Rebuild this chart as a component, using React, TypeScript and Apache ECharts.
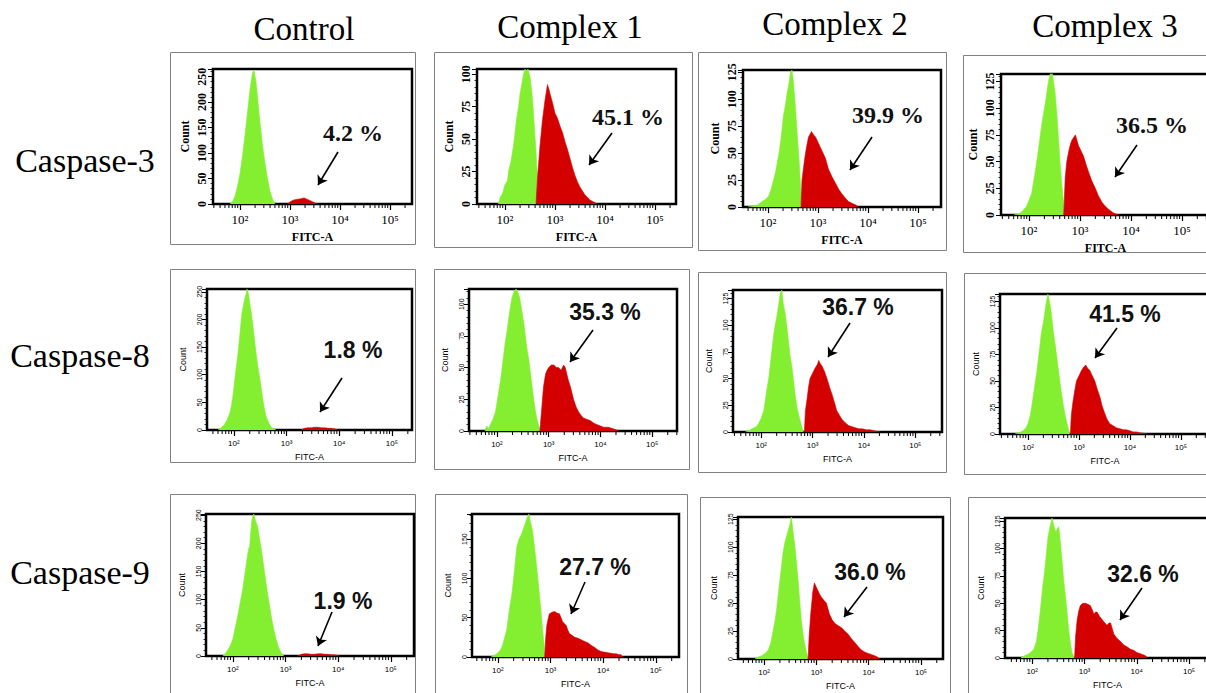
import React, { useEffect, useRef } from 'react';
import * as echarts from 'echarts';

// ---------- labels ----------
const columns = ['Control', 'Complex 1', 'Complex 2', 'Complex 3'];
const rows = ['Caspase-3', 'Caspase-8', 'Caspase-9'];
const percents = [
  ['4.2 %', '45.1 %', '39.9 %', '36.5 %'],
  ['1.8 %', '35.3 %', '36.7 %', '41.5 %'],
  ['1.9 %', '27.7 %', '36.0 %', '32.6 %'],
];
const xTickValues = [2, 3, 4, 5];
const xTickLabels = ['10²', '10³', '10⁴', '10⁵'];
const yMax = [
  [265, 104, 127, 132],
  [255, 112, 133, 132],
  [252, 182, 127, 128],
];
const yStep = [
  [50, 25, 25, 25],
  [50, 25, 25, 25],
  [50, 50, 25, 25],
];

// ---------- histogram data: [log10(FITC-A), count] ----------
// Caspase-3
const c3CtrlGreen = [[1.80,0],[1.85,5],[1.90,15],[1.95,35],[2.0,60],[2.05,95],[2.10,135],[2.15,180],[2.20,225],[2.25,258],[2.28,262],[2.32,240],[2.36,200],[2.40,160],[2.45,115],[2.50,80],[2.55,50],[2.60,25],[2.65,10],[2.70,0]];
const c3CtrlRed = [[2.95,0],[3.0,4],[3.05,7],[3.12,9],[3.2,10],[3.28,12],[3.35,9],[3.42,6],[3.5,2],[3.55,0]];
const c3C1Green = [[1.87,0],[1.9,5],[1.95,8],[2.0,15],[2.05,18],[2.07,25],[2.12,33],[2.17,45],[2.2,55],[2.23,65],[2.27,75],[2.3,85],[2.34,93],[2.37,100],[2.4,104],[2.43,102],[2.46,104],[2.5,98],[2.54,85],[2.57,70],[2.6,52],[2.62,40],[2.65,20],[2.67,0]];
const c3C1Red = [[2.62,0],[2.65,20],[2.70,45],[2.75,65],[2.80,80],[2.85,92],[2.88,88],[2.90,85],[2.95,78],[3.0,70],[3.05,66],[3.1,60],[3.15,55],[3.2,48],[3.25,42],[3.3,35],[3.35,28],[3.4,22],[3.45,17],[3.5,13],[3.6,7],[3.7,3],[3.8,1],[3.85,0]];
const c3C2Green = [[1.6,0],[1.7,1],[1.8,2],[1.88,5],[1.95,7],[2.01,10],[2.06,16],[2.11,25],[2.15,32],[2.18,40],[2.22,50],[2.25,60],[2.28,72],[2.31,85],[2.35,95],[2.38,105],[2.42,115],[2.45,125],[2.48,127],[2.51,115],[2.55,92],[2.58,70],[2.62,45],[2.65,20],[2.68,0]];
const c3C2Red = [[2.66,0],[2.68,25],[2.72,40],[2.75,50],[2.78,58],[2.81,65],[2.87,70],[2.91,67],[2.95,65],[3.0,60],[3.05,55],[3.1,50],[3.15,45],[3.21,35],[3.28,28],[3.35,22],[3.42,16],[3.48,12],[3.55,8],[3.61,5],[3.7,3],[3.75,2],[3.81,0]];
const c3C3Green = [[1.7,0],[1.8,1],[1.86,3],[1.95,8],[2.05,20],[2.12,40],[2.18,60],[2.25,85],[2.32,105],[2.38,125],[2.42,133],[2.45,135],[2.48,125],[2.51,115],[2.55,92],[2.58,70],[2.61,48],[2.64,30],[2.7,0]];
const c3C3Red = [[2.68,0],[2.71,35],[2.74,50],[2.78,60],[2.81,66],[2.84,70],[2.88,73],[2.91,75],[2.94,70],[2.97,65],[3.02,60],[3.07,55],[3.12,47],[3.17,40],[3.23,32],[3.3,25],[3.36,18],[3.43,12],[3.5,8],[3.57,5],[3.65,2],[3.7,1],[3.76,0]];
// Caspase-8
const c8CtrlGreen = [[1.7,0],[1.76,4],[1.82,10],[1.87,18],[1.92,30],[1.95,42],[1.98,60],[2.01,85],[2.04,110],[2.08,140],[2.11,170],[2.15,210],[2.18,225],[2.2,235],[2.23,245],[2.25,255],[2.28,245],[2.3,230],[2.33,212],[2.36,190],[2.39,165],[2.42,140],[2.45,118],[2.49,95],[2.52,75],[2.55,55],[2.58,38],[2.61,25],[2.66,13],[2.71,5],[2.8,0]];
const c8CtrlRed = [[3.28,0],[3.34,3],[3.4,4],[3.47,4],[3.53,5],[3.6,5],[3.66,4],[3.72,4],[3.8,3],[3.85,3],[3.92,2],[3.97,0]];
const c8C1Green = [[1.77,0],[1.8,4],[1.84,2],[1.87,5],[1.92,9],[1.97,15],[2.0,22],[2.03,30],[2.07,40],[2.1,50],[2.13,60],[2.16,70],[2.2,80],[2.23,90],[2.26,98],[2.29,105],[2.33,110],[2.37,112],[2.4,110],[2.44,105],[2.48,95],[2.52,85],[2.55,75],[2.58,65],[2.62,55],[2.65,45],[2.68,35],[2.71,25],[2.74,17],[2.77,10],[2.81,4],[2.84,0]];
const c8C1Red = [[2.83,0],[2.85,10],[2.87,20],[2.9,35],[2.94,45],[2.97,48],[3.0,50],[3.05,52],[3.1,52],[3.15,50],[3.19,50],[3.24,48],[3.29,52],[3.32,50],[3.35,45],[3.38,40],[3.42,35],[3.45,30],[3.48,25],[3.53,19],[3.58,15],[3.63,12],[3.68,10],[3.75,9],[3.81,8],[3.88,6],[3.94,5],[4.0,4],[4.06,3],[4.15,3],[4.23,2],[4.3,1],[4.35,0]];
const c8C2Green = [[1.69,0],[1.75,1],[1.82,3],[1.9,5],[1.95,8],[2.0,13],[2.05,20],[2.08,30],[2.11,40],[2.15,52],[2.18,65],[2.21,78],[2.24,90],[2.27,100],[2.31,110],[2.34,120],[2.37,130],[2.4,133],[2.43,120],[2.47,110],[2.5,98],[2.53,85],[2.56,72],[2.6,60],[2.63,48],[2.66,35],[2.7,22],[2.76,10],[2.82,0]];
const c8C2Red = [[2.84,0],[2.86,20],[2.89,30],[2.92,42],[2.95,50],[3.0,55],[3.05,60],[3.09,63],[3.12,67],[3.15,64],[3.18,62],[3.23,57],[3.28,50],[3.33,42],[3.38,35],[3.43,27],[3.47,20],[3.52,16],[3.57,12],[3.63,9],[3.7,6],[3.77,5],[3.83,4],[3.9,3],[3.96,3],[4.05,2],[4.12,2],[4.22,1],[4.32,0]];
const c8C3Green = [[1.74,0],[1.82,1],[1.9,3],[1.96,6],[2.0,10],[2.04,17],[2.07,25],[2.1,35],[2.13,45],[2.17,58],[2.2,70],[2.23,82],[2.26,95],[2.3,105],[2.33,115],[2.36,125],[2.39,132],[2.42,125],[2.44,120],[2.47,108],[2.5,95],[2.54,82],[2.57,70],[2.61,55],[2.65,40],[2.7,25],[2.74,15],[2.78,7],[2.82,0]];
const c8C3Red = [[2.83,0],[2.85,18],[2.88,30],[2.92,42],[2.95,50],[3.0,55],[3.05,60],[3.09,63],[3.13,65],[3.17,62],[3.21,60],[3.26,55],[3.31,50],[3.36,42],[3.41,35],[3.45,27],[3.5,20],[3.55,14],[3.6,10],[3.66,8],[3.73,6],[3.8,5],[3.87,4],[3.93,4],[4.0,3],[4.06,2],[4.12,2],[4.22,1],[4.35,0]];
// Caspase-9
const c9CtrlGreen = [[1.81,0],[1.86,5],[1.9,10],[1.95,18],[2.0,30],[2.04,48],[2.09,70],[2.14,95],[2.19,120],[2.22,140],[2.25,160],[2.28,180],[2.3,190],[2.32,195],[2.34,220],[2.36,240],[2.38,250],[2.4,252],[2.43,240],[2.47,230],[2.5,212],[2.54,190],[2.57,170],[2.6,150],[2.63,130],[2.66,110],[2.7,88],[2.73,70],[2.77,50],[2.82,30],[2.87,15],[2.92,5],[2.97,0]];
const c9CtrlRed = [[3.23,0],[3.28,2],[3.3,3],[3.36,4],[3.42,4],[3.48,3],[3.55,3],[3.62,4],[3.68,4],[3.74,3],[3.8,3],[3.87,2],[3.93,2],[4.03,0]];
const c9C1Green = [[1.87,0],[1.93,2],[2.0,5],[2.05,9],[2.09,15],[2.13,25],[2.17,35],[2.2,50],[2.23,65],[2.27,82],[2.3,100],[2.33,120],[2.36,140],[2.4,150],[2.44,155],[2.48,162],[2.52,170],[2.56,178],[2.59,182],[2.62,172],[2.66,160],[2.7,138],[2.73,120],[2.76,100],[2.79,80],[2.82,58],[2.85,35],[2.88,15],[2.9,0]];
const c9C1Red = [[2.89,0],[2.91,25],[2.93,40],[2.96,50],[2.98,55],[3.03,57],[3.08,58],[3.12,56],[3.17,55],[3.2,50],[3.23,45],[3.27,42],[3.3,40],[3.33,34],[3.36,30],[3.4,28],[3.46,25],[3.52,24],[3.58,22],[3.64,20],[3.71,18],[3.77,15],[3.84,12],[3.9,9],[3.96,7],[4.04,6],[4.12,5],[4.2,4],[4.25,4],[4.3,3],[4.34,3],[4.37,0]];
const c9C2Green = [[1.82,0],[1.9,2],[1.95,3],[2.02,5],[2.08,8],[2.13,15],[2.17,25],[2.21,35],[2.24,45],[2.27,58],[2.3,70],[2.33,82],[2.36,95],[2.4,105],[2.46,115],[2.49,120],[2.52,127],[2.55,115],[2.59,100],[2.62,85],[2.65,70],[2.68,52],[2.71,35],[2.75,20],[2.79,10],[2.84,0]];
const c9C2Red = [[2.84,0],[2.86,20],[2.89,40],[2.93,60],[2.96,68],[2.99,65],[3.02,62],[3.06,58],[3.1,55],[3.15,52],[3.19,50],[3.22,45],[3.25,40],[3.3,35],[3.35,32],[3.41,30],[3.48,28],[3.54,25],[3.61,22],[3.67,18],[3.73,15],[3.8,11],[3.86,8],[3.93,6],[3.99,5],[4.05,4],[4.11,3],[4.16,2],[4.21,0]];
const c9C3Green = [[1.78,0],[1.85,2],[1.9,3],[1.97,5],[2.03,8],[2.08,15],[2.11,25],[2.14,37],[2.17,50],[2.2,65],[2.24,80],[2.27,95],[2.3,110],[2.34,120],[2.38,128],[2.41,122],[2.45,115],[2.48,118],[2.51,120],[2.54,105],[2.57,90],[2.6,72],[2.64,55],[2.67,40],[2.7,25],[2.73,14],[2.76,5],[2.81,0]];
const c9C3Red = [[2.81,0],[2.83,20],[2.86,35],[2.89,43],[2.92,48],[2.97,50],[3.02,50],[3.07,49],[3.11,48],[3.15,44],[3.18,40],[3.21,42],[3.24,42],[3.29,38],[3.34,35],[3.39,32],[3.43,30],[3.47,32],[3.5,32],[3.53,27],[3.56,22],[3.62,18],[3.69,15],[3.75,12],[3.82,10],[3.88,8],[3.94,7],[4.0,5],[4.07,4],[4.12,3],[4.17,2],[4.2,0]];

const greenData = [
  [c3CtrlGreen, c3C1Green, c3C2Green, c3C3Green],
  [c8CtrlGreen, c8C1Green, c8C2Green, c8C3Green],
  [c9CtrlGreen, c9C1Green, c9C2Green, c9C3Green],
];
const redData = [
  [c3CtrlRed, c3C1Red, c3C2Red, c3C3Red],
  [c8CtrlRed, c8C1Red, c8C2Red, c8C3Red],
  [c9CtrlRed, c9C1Red, c9C2Red, c9C3Red],
];

// ---------- layout (pixels) ----------
type Layout = { box: number[]; grid: number[]; x: number[]; pct: number[]; arrow: number[] };
const layout: Layout[][] = [
  [
    { box: [170, 52, 245, 192], grid: [213, 69, 199, 135], x: [1.46, 5.44], pct: [353, 133], arrow: [338, 152, 318, 185] },
    { box: [434, 52, 258, 195], grid: [477, 69, 199, 135], x: [1.44, 5.42], pct: [628, 117], arrow: [612, 133, 589, 165] },
    { box: [698, 52, 248, 198], grid: [743, 70, 198, 137], x: [1.5, 5.46], pct: [888, 115], arrow: [872, 137, 850, 170] },
    { box: [963, 55, 260, 197], grid: [1001, 74, 209, 141], x: [1.45, 5.55], pct: [1152, 125], arrow: [1137, 145, 1115, 177] },
  ],
  [
    { box: [170, 269, 245, 193], grid: [207, 289, 205, 141], x: [1.49, 5.38], pct: [353, 350], arrow: [342, 378, 320, 412] },
    { box: [434, 269, 255, 200], grid: [469, 289, 208, 142], x: [1.46, 5.48], pct: [605, 312], arrow: [593, 330, 570, 362] },
    { box: [698, 272, 248, 200], grid: [733, 290, 209, 142], x: [1.45, 5.52], pct: [858, 307], arrow: [850, 323, 828, 357] },
    { box: [964, 273, 260, 201], grid: [1000, 294, 210, 140], x: [1.45, 5.57], pct: [1125, 314], arrow: [1117, 328, 1095, 358] },
  ],
  [
    { box: [170, 494, 245, 210], grid: [206, 514, 208, 142], x: [1.49, 5.44], pct: [343, 601], arrow: [332, 612, 318, 646] },
    { box: [435, 494, 252, 210], grid: [472, 514, 207, 143], x: [1.51, 5.44], pct: [595, 567], arrow: [585, 582, 571, 614] },
    { box: [700, 497, 250, 210], grid: [738, 517, 205, 142], x: [1.5, 5.42], pct: [870, 572], arrow: [867, 587, 844, 617] },
    { box: [968, 497, 260, 210], grid: [1005, 518, 205, 140], x: [1.48, 5.40], pct: [1143, 574], arrow: [1142, 588, 1120, 620] },
  ],
];

const headerPos = [[304, 29], [570, 27], [835, 24], [1105, 26]];
const rowLabelPos = [[85, 160], [80, 355], [80, 572]];

const GREEN = '#84ef30';
const RED = '#d40000';
const SERIF = '"Liberation Serif", "Times New Roman", serif';
const SANS = '"Liberation Sans", Arial, sans-serif';

function minorTickValues(lo: number, hi: number) {
  const v: number[] = [];
  for (let n = 1; n <= 5; n++) {
    for (let k = 2; k <= 9; k++) {
      const t = Math.log10(k * Math.pow(10, n));
      if (t > lo && t < hi) v.push(t);
    }
  }
  return v;
}

function buildOption() {
  const grid: any[] = [];
  const xAxis: any[] = [];
  const yAxis: any[] = [];
  const series: any[] = [];
  const graphic: any[] = [];

  for (let r = 0; r < 3; r++) {
    for (let c = 0; c < 4; c++) {
      const i = r * 4 + c;
      const L = layout[r][c];
      const serif = r === 0;
      const axisFont = serif ? SERIF : SANS;
      grid.push({
        left: L.grid[0], top: L.grid[1], width: L.grid[2], height: L.grid[3],
        show: true, borderColor: '#000', borderWidth: 2.5, backgroundColor: 'transparent',
        containLabel: false, outerBoundsMode: 'none',
      });
      xAxis.push({
        type: 'value', gridIndex: i, min: L.x[0], max: L.x[1], position: 'bottom',
        axisLine: { show: true, onZero: false, lineStyle: { color: '#000', width: 2 } },
        axisTick: { show: true, customValues: xTickValues, length: 6, lineStyle: { color: '#000', width: 1.2 } },
        axisLabel: {
          customValues: xTickValues,
          formatter: (v: number) => xTickLabels[xTickValues.indexOf(Math.round(v))] || '',
          fontFamily: axisFont, fontSize: serif ? 13 : 8, color: '#000', margin: 9,
        },
        splitLine: { show: false },
        name: 'FITC-A', nameLocation: 'middle', nameGap: serif ? 27 : 22,
        nameTextStyle: { fontFamily: axisFont, fontSize: serif ? 12 : 9, fontWeight: serif ? 'bold' : 'normal', color: '#000' },
      });
      yAxis.push({
        type: 'value', gridIndex: i, min: 0, max: yMax[r][c], interval: yStep[r][c],
        axisLine: { show: true, lineStyle: { color: '#000', width: 2 } },
        axisTick: { show: true, length: 5, lineStyle: { color: '#000', width: 1 } },
        minorTick: { show: true, splitNumber: 5, length: 2.5, lineStyle: { color: '#000', width: 0.8 } },
        axisLabel: {
          rotate: 90, showMaxLabel: false, fontFamily: axisFont, fontSize: serif ? 12 : 7,
          fontWeight: serif ? 'bold' : 'normal', color: '#000', margin: serif ? 5 : 4,
        },
        splitLine: { show: false },
        name: 'Count', nameLocation: 'middle', nameGap: serif ? 22 : 20, nameRotate: 90,
        nameTextStyle: { fontFamily: axisFont, fontSize: serif ? 12 : 9, fontWeight: serif ? 'bold' : 'normal', color: '#000' },
      });
      series.push({
        type: 'line', xAxisIndex: i, yAxisIndex: i, data: greenData[r][c],
        showSymbol: false, symbol: 'none', silent: true, z: 2,
        lineStyle: { width: 0.6, color: GREEN }, itemStyle: { color: GREEN },
        areaStyle: { color: GREEN, opacity: 1 },
      });
      series.push({
        type: 'line', xAxisIndex: i, yAxisIndex: i, data: redData[r][c],
        showSymbol: false, symbol: 'none', silent: true, z: 3,
        lineStyle: { width: 0.6, color: RED }, itemStyle: { color: RED },
        areaStyle: { color: RED, opacity: 1 },
        markLine: {
          silent: true, symbol: ['none', 'arrow'], symbolSize: 9,
          lineStyle: { color: '#000', width: 1.6, type: 'solid' },
          label: { show: false },
          data: [[{ x: L.arrow[0], y: L.arrow[1] }, { x: L.arrow[2], y: L.arrow[3] }]],
        },
      });
      series.push({
        type: 'custom', xAxisIndex: i, yAxisIndex: i, silent: true, z: 4,
        data: minorTickValues(L.x[0], L.x[1]).map((v) => [v, 0]),
        encode: { x: 0, y: 1 },
        renderItem: (_p: any, api: any) => {
          const pt = api.coord([api.value(0), 0]);
          return {
            type: 'line',
            shape: { x1: pt[0], y1: pt[1], x2: pt[0], y2: pt[1] + 4 },
            style: { stroke: '#000', lineWidth: 1 },
          };
        },
      });
      graphic.push({
        type: 'rect', shape: { x: L.box[0] + 0.5, y: L.box[1] + 0.5, width: L.box[2], height: L.box[3] },
        style: { fill: 'none', stroke: '#808080', lineWidth: 1 }, silent: true, z: -1,
      });
      graphic.push({
        type: 'text', x: L.pct[0], y: L.pct[1], silent: true,
        style: {
          text: percents[r][c], align: 'center', verticalAlign: 'middle',
          fontFamily: serif ? SERIF : SANS, fontSize: serif ? 24 : 23, fontWeight: 'bold', fill: '#111',
        },
      });
    }
  }
  columns.forEach((t, c) => {
    graphic.push({
      type: 'text', x: headerPos[c][0], y: headerPos[c][1], silent: true,
      style: { text: t, align: 'center', verticalAlign: 'middle', fontFamily: SERIF, fontSize: 33, fill: '#000' },
    });
  });
  rows.forEach((t, r) => {
    graphic.push({
      type: 'text', x: rowLabelPos[r][0], y: rowLabelPos[r][1], silent: true,
      style: { text: t, align: 'center', verticalAlign: 'middle', fontFamily: SERIF, fontSize: 34, fill: '#000' },
    });
  });

  return { animation: false, backgroundColor: '#fff', grid, xAxis, yAxis, series, graphic };
}

export default function App() {
  const ref = useRef<HTMLDivElement>(null);
  useEffect(() => {
    if (!ref.current) return;
    const chart = echarts.init(ref.current, undefined, { renderer: 'svg' });
    chart.setOption(buildOption() as any);
    return () => chart.dispose();
  }, []);
  return (
    <div
      ref={ref}
      style={{ position: 'fixed', left: 0, top: 0, width: 1206, height: 693, background: '#fff' }}
    />
  );
}
